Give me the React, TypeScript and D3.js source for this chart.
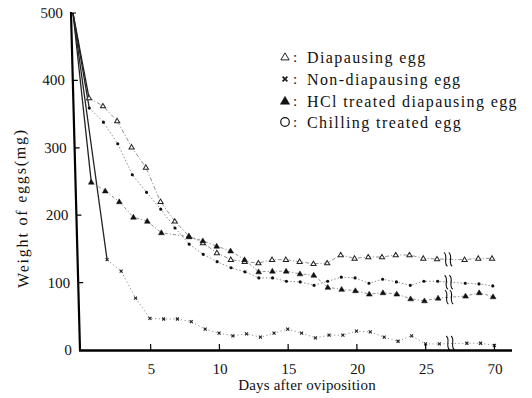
import React from 'react';
import * as d3 from 'd3';

// ---- data (days after oviposition, weight of eggs in mg) ----
const diapausingDays = [0, 1, 2, 3, 4, 5, 6, 7, 8, 9, 10, 11, 12, 13, 14, 15, 16, 17, 18, 19, 20, 21, 22, 23, 24, 25, 26, 68, 69, 70];
const diapausingWeights = [500, 374, 362, 340, 301, 271, 220, 191, 169, 159, 144, 134, 131, 129, 134, 134, 131, 128, 129, 141, 136, 138, 138, 141, 141, 136, 135, 134, 136, 136];

const nonDiapausingDays = [0, 2, 3, 4, 5, 6, 7, 8, 9, 10, 11, 12, 13, 14, 15, 16, 17, 18, 19, 20, 21, 22, 23, 24, 25, 26, 68, 69, 70];
const nonDiapausingWeights = [500, 134, 117, 77, 47, 46, 46, 42, 31, 25, 21, 24, 19, 25, 31, 25, 18, 22, 22, 28, 27, 19, 13, 21, 9, 9, 10, 10, 7];

const hclDays = [0, 1, 2, 3, 4, 5, 6, 8, 9, 10, 11, 12, 13, 14, 15, 16, 17, 18, 19, 20, 21, 22, 23, 24, 25, 26, 68, 69, 70];
const hclWeights = [500, 249, 236, 220, 197, 191, 174, 168, 162, 154, 147, 134, 116, 117, 117, 113, 111, 93, 90, 88, 83, 85, 83, 76, 73, 77, 80, 85, 79];

const chillingDays = [0, 1, 2, 3, 4, 5, 6, 7, 8, 9, 10, 11, 12, 13, 14, 15, 16, 17, 18, 19, 20, 21, 22, 23, 24, 25, 26, 68, 69, 70];
const chillingWeights = [500, 359, 338, 306, 260, 234, 209, 181, 157, 142, 131, 122, 116, 107, 107, 102, 101, 96, 102, 108, 107, 99, 105, 101, 96, 102, 102, 99, 98, 95];

const seriesNames = ['Diapausing egg', 'Non-diapausing egg', 'HCl treated diapausing egg', 'Chilling treated egg'];
const xTickValues = [5, 10, 15, 20, 25, 70];
const yTickValues = [0, 100, 200, 300, 400, 500];
const xTitle = 'Days after oviposition';
const yTitle = 'Weight of eggs(mg)';

const BREAK_GAP = 40; // days hidden by the axis break
const BREAK_AT = 26.8; // position of the break marks

const FONT = 'Liberation Serif';

type Marker = 'triOpen' | 'cross' | 'triFill' | 'dot';

function MarkerShape({ kind, cx, cy, s = 1 }: { kind: Marker; cx: number; cy: number; s?: number }) {
  if (kind === 'triOpen') {
    const r = 2.6 * s;
    return <path d={`M${cx},${cy - r} L${cx + r},${cy + r * 0.7} L${cx - r},${cy + r * 0.7} Z`} fill="#fff" stroke="#222" strokeWidth={1} />;
  }
  if (kind === 'triFill') {
    const r = 2.9 * s;
    return <path d={`M${cx},${cy - r} L${cx + r},${cy + r * 0.7} L${cx - r},${cy + r * 0.7} Z`} fill="#111" stroke="#111" strokeWidth={0.5} />;
  }
  if (kind === 'cross') {
    const r = 1.5 * s;
    return (
      <g stroke="#222" strokeWidth={s > 1 ? 1.8 : 1.1}>
        <line x1={cx - r} y1={cy - r} x2={cx + r} y2={cy + r} />
        <line x1={cx - r} y1={cy + r} x2={cx + r} y2={cy - r} />
      </g>
    );
  }
  return <circle cx={cx} cy={cy} r={1.6 * s} fill="#111" />;
}

export default function App() {
  const xs = d3.scaleLinear().domain([0, 25]).range([82, 425.75]);
  const pos = (d: number) => (d > BREAK_GAP ? d - BREAK_GAP : d);
  const x = (d: number) => xs(pos(d));
  const y = d3.scaleLinear().domain([0, 500]).range([350, 13]);

  const series = [
    { name: seriesNames[0], days: diapausingDays, vals: diapausingWeights, marker: 'triOpen' as Marker, dash: '4 2 1.2 2' },
    { name: seriesNames[1], days: nonDiapausingDays, vals: nonDiapausingWeights, marker: 'cross' as Marker, dash: '1.2 2.5' },
    { name: seriesNames[2], days: hclDays, vals: hclWeights, marker: 'triFill' as Marker, dash: '3 2 1.2 2' },
    { name: seriesNames[3], days: chillingDays, vals: chillingWeights, marker: 'dot' as Marker, dash: '1.5 2' },
  ];

  const line = d3
    .line<[number, number]>()
    .x((p) => x(p[0]))
    .y((p) => y(p[1]));

  const skew = 'translate(0,350) skewX(1.53) translate(0,-350)';

  const breakMark = (bx: number, by: number, key: string) => (
    <g key={key} stroke="#111" strokeWidth={1.1} fill="none">
      {[-2.4, 2.4].map((dx) => (
        <path key={dx} d={`M${bx + dx - 1.5},${by - 7} C${bx + dx + 3},${by - 3.5} ${bx + dx - 3},${by + 3} ${bx + dx + 1.5},${by + 7}`} />
      ))}
    </g>
  );

  const legendX = 285;
  const legendY = [57, 79, 101, 122];
  const legendMarkers: Marker[] = ['triOpen', 'cross', 'triFill', 'dot'];

  return (
    <svg width={532} height={398} style={{ position: 'absolute', left: 0, top: 0, background: '#fff' }}>
      <rect x={0} y={0} width={532} height={398} fill="#fff" />
      <g transform={skew}>
        {/* series lines */}
        {series.map((s, i) => {
          const pts = s.days.map((d, k) => [d, s.vals[k]] as [number, number]);
          return (
            <g key={i}>
              <path d={line(pts.slice(0, 2)) || ''} fill="none" stroke="#222" strokeWidth={1.3} />
              <path d={line(pts.slice(1)) || ''} fill="none" stroke="#777" strokeWidth={0.8} strokeDasharray={s.dash} />
            </g>
          );
        })}
        {/* markers */}
        {series.map((s, i) => (
          <g key={'m' + i}>
            {s.days.slice(1).map((d, k) => (
              <MarkerShape key={k} kind={s.marker} cx={x(d)} cy={y(s.vals[k + 1])} />
            ))}
          </g>
        ))}
        {/* break marks */}
        {series.map((s, i) => {
          const j = s.days.findIndex((d) => d > BREAK_GAP);
          const v = (s.vals[j - 1] + s.vals[j]) / 2;
          return breakMark(xs(BREAK_AT), Math.min(y(v), 343), 'b' + i);
        })}
        {/* axes */}
        <line x1={80} y1={351} x2={80} y2={12} stroke="#000" strokeWidth={2.2} />
        <line x1={79} y1={350.5} x2={512} y2={350.5} stroke="#000" strokeWidth={2.6} />
        {yTickValues.map((t) => (
          <g key={'yt' + t}>
            {t > 0 && <line x1={80} x2={85} y1={y(t)} y2={y(t)} stroke="#000" strokeWidth={1.2} />}
            <text x={72} y={y(t)} textAnchor="end" dominantBaseline="central" fontSize={15} fontFamily={FONT} fill="#111">
              {t}
            </text>
          </g>
        ))}
        {xTickValues.map((t) => (
          <g key={'xt' + t}>
            <line x1={x(t)} x2={x(t)} y1={350} y2={344} stroke="#000" strokeWidth={1.2} />
            <text x={x(t)} y={369} textAnchor="middle" dominantBaseline="central" fontSize={15} fontFamily={FONT} fill="#111">
              {t}
            </text>
          </g>
        ))}
        <text
          transform={`translate(25,208) rotate(-90)`}
          textAnchor="middle"
          dominantBaseline="central"
          fontSize={16}
          fontFamily={FONT}
          letterSpacing={1.8}
          fill="#111"
        >
          {yTitle}
        </text>
      </g>
      <text x={307} y={385} textAnchor="middle" dominantBaseline="central" fontSize={15} fontFamily={FONT} letterSpacing={0.2} fill="#111">
        {xTitle}
      </text>
      {/* legend */}
      {seriesNames.map((n, i) => (
        <g key={'lg' + i}>
          {legendMarkers[i] === 'dot' ? (
            <circle cx={legendX} cy={legendY[i]} r={4.3} fill="none" stroke="#111" strokeWidth={1.2} />
          ) : (
            <MarkerShape kind={legendMarkers[i]} cx={legendX} cy={legendY[i]} s={1.6} />
          )}
          <text x={293} y={legendY[i]} dominantBaseline="central" fontSize={15} fontFamily={FONT} fill="#111">
            :
          </text>
          <text x={307} y={legendY[i]} dominantBaseline="central" fontSize={16} fontFamily={FONT} letterSpacing={1.4} fill="#111">
            {n}
          </text>
        </g>
      ))}
    </svg>
  );
}
